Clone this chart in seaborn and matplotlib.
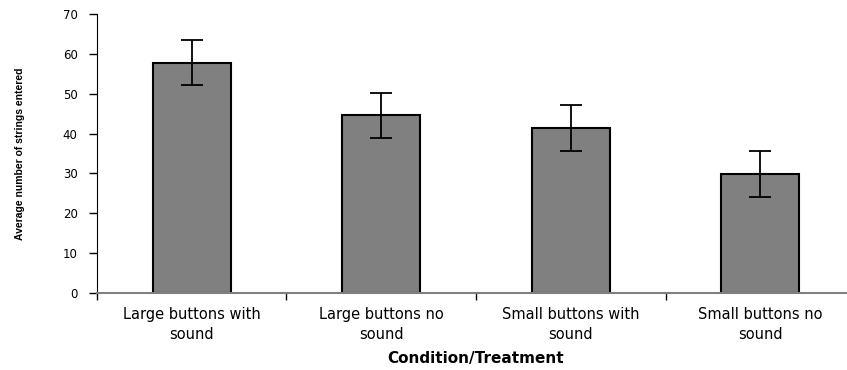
import seaborn as sns
import matplotlib.pyplot as plt
import pandas as pd

conditions = ["Large buttons with\nsound", "Large buttons no\nsound",
              "Small buttons with\nsound", "Small buttons no\nsound"]
means = [57.8, 44.6, 41.5, 29.9]
errors = [5.7, 5.6, 5.8, 5.7]

df = pd.DataFrame({"condition": conditions, "mean": means, "err": errors})

sns.set_style("white")
plt.rcParams['font.family'] = ['DejaVu Sans']
plt.rcParams['text.color'] = 'black'
plt.rcParams['axes.labelcolor'] = 'black'
plt.rcParams['xtick.color'] = 'black'
plt.rcParams['ytick.color'] = 'black'

fig = plt.figure(figsize=(8.47, 3.70), dpi=100)
ax = fig.add_axes([0.1145, 0.208, 0.895, 0.754])

sns.barplot(data=df, x="condition", y="mean", color="#808080",
            saturation=1, edgecolor="black", linewidth=1.5, width=0.41, ax=ax)
ax.errorbar(x=ax.get_xticks(), y=df["mean"], yerr=df["err"], fmt="none",
            ecolor="black", elinewidth=1.3, capsize=8, capthick=1.3)

ax.set_xlim(-0.5, 3.5)
ax.set_ylim(0, 70)
ax.set_yticks(range(0, 71, 10))
ax.tick_params(axis="y", which="major", direction="out", length=6, width=1,
               color="black", labelsize=8.5, left=True, pad=8)
ax.tick_params(axis="x", which="major", length=0, labelsize=10.5, pad=10)
ax.set_xticks([-0.5, 0.5, 1.5, 2.5], minor=True)
ax.tick_params(axis="x", which="minor", direction="out", length=5, width=1,
               color="black", bottom=True)
for lbl in ax.get_xticklabels():
    lbl.set_linespacing(1.45)

sns.despine(ax=ax)
ax.spines["left"].set_color("black")
ax.spines["bottom"].set_color("#808080")
ax.spines["bottom"].set_linewidth(1.5)

ax.set_xlabel("Condition/Treatment", fontsize=11, fontweight="bold", labelpad=6)
ax.set_ylabel("Average number of strings entered", fontsize=7.5,
              fontweight="bold", family="Liberation Sans", labelpad=27)

fig.savefig("out.png", dpi=100)
